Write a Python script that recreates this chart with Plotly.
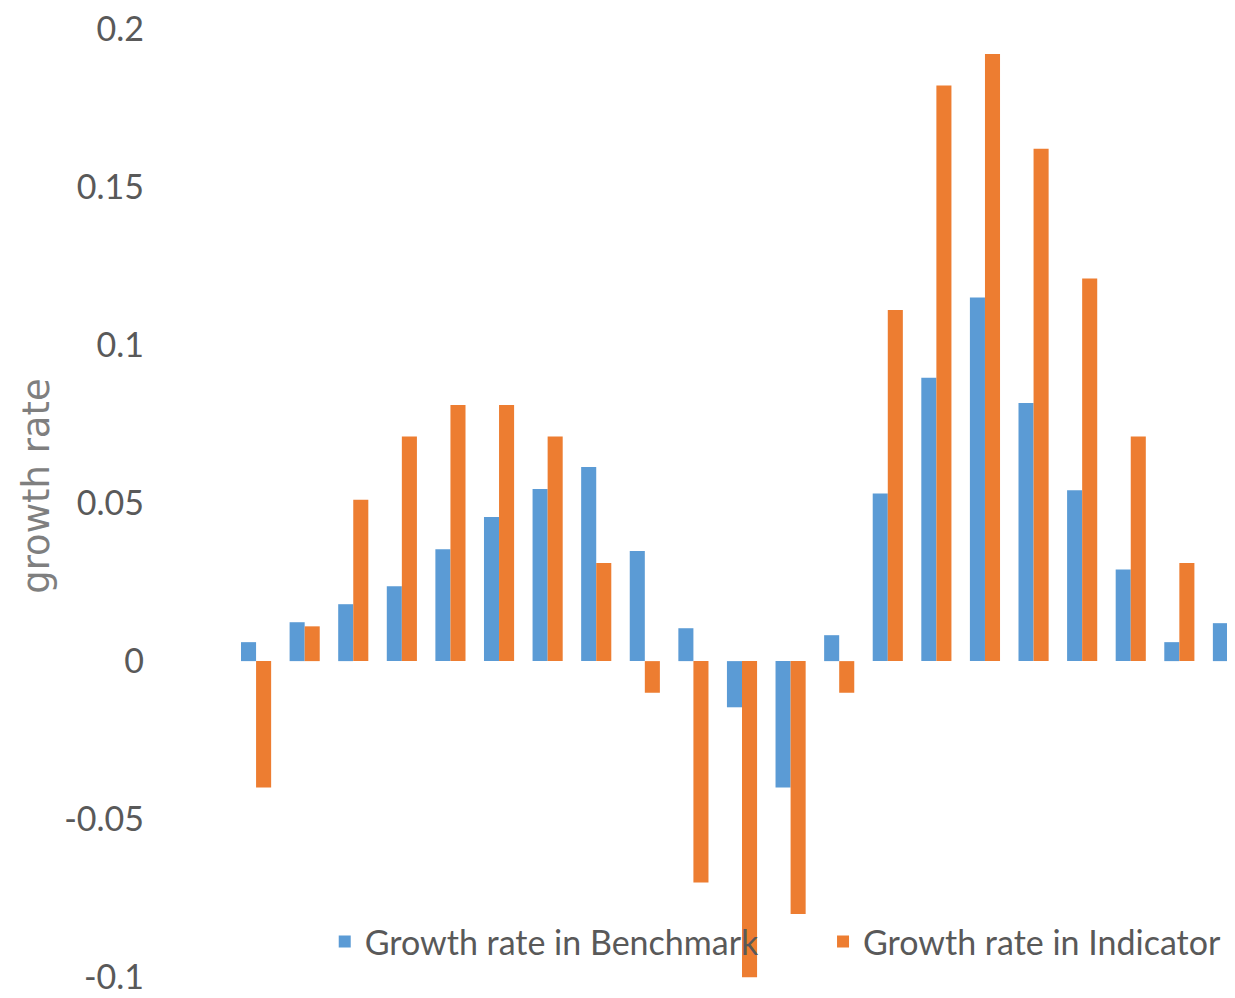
import plotly.graph_objects as go

categories = list(range(1, 22))
benchmark = [0.006, 0.0123, 0.018, 0.0237, 0.0354, 0.0456, 0.0544, 0.0614, 0.0348, 0.0104,
             -0.0146, -0.040, 0.0082, 0.053, 0.0896, 0.115, 0.0816, 0.054, 0.029, 0.006, 0.012]
indicator = [-0.040, 0.011, 0.051, 0.071, 0.081, 0.081, 0.071, 0.031, -0.010, -0.070,
             -0.100, -0.080, -0.010, 0.111, 0.182, 0.192, 0.162, 0.121, 0.071, 0.031, 0.0105]
y_ticks = [-0.1, -0.05, 0, 0.05, 0.1, 0.15, 0.2]
y_tick_labels = ["-0.1", "-0.05", "0", "0.05", "0.1", "0.15", "0.2"]

FONT = "Lato"
TXT = "#595959"
x_idx = list(range(len(categories)))

fig = go.Figure()
fig.add_trace(go.Bar(x=x_idx, y=benchmark, name="Growth rate in Benchmark",
                     marker=dict(color="#5B9BD5", line=dict(width=0)), legend="legend"))
fig.add_trace(go.Bar(x=x_idx, y=indicator, name="Growth rate in Indicator",
                     marker=dict(color="#ED7D31", line=dict(width=0)), legend="legend2"))

leg_common = dict(orientation="h", y=0.038, xanchor="left", yanchor="middle",
                  font=dict(size=34, color=TXT), bgcolor="rgba(0,0,0,0)", itemwidth=30)

fig.update_layout(
    width=1235, height=998,
    margin=dict(l=147, r=0, t=20, b=28),
    paper_bgcolor="white", plot_bgcolor="white",
    barmode="group", bargap=0.38, bargroupgap=0.0,
    font=dict(family=FONT, color=TXT, size=34),
    showlegend=True,
    legend=dict(x=0.156, **leg_common),
    legend2=dict(x=0.614, **leg_common),
    xaxis=dict(range=[-2.08, 20.31], showticklabels=False, showgrid=False,
               zeroline=False, showline=False, ticks=""),
    yaxis=dict(range=[-0.1002, 0.2002], tickvals=y_ticks, ticktext=y_tick_labels,
               showgrid=False, zeroline=False, showline=False,
               ticklabelstandoff=10, ticklabeloverflow="allow",
               tickfont=dict(size=34, color=TXT)),
    annotations=[dict(text="growth rate", textangle=-90, xref="paper", yref="paper",
                      x=-0.1085, y=0.518, xanchor="center", yanchor="middle",
                      showarrow=False,
                      font=dict(family="DejaVu Sans", size=37, color="#7f7f7f"))],
)

fig.write_html("out.html")
